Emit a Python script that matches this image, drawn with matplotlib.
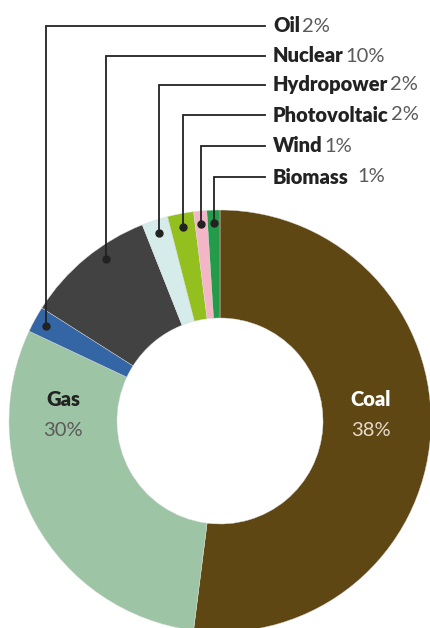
import numpy as np
import matplotlib.pyplot as plt

# slices clockwise from 12 o'clock
names = ['Coal', 'Gas', 'Oil', 'Nuclear', 'Hydropower', 'Photovoltaic', 'Wind', 'Biomass']
arc_share = [52, 30, 2, 10, 2, 2, 1, 1]          # sizes as drawn
pct_text = ['38%', '30%', '2%', '10%', '2%', '2%', '1%', '1%']   # labels as printed
colors = ['#5f4714', '#9dc5a5', '#3465a4', '#424242', '#d5ecea', '#93c01f', '#f4b6c6', '#239b48']

W, H = 430, 628
fig = plt.figure(figsize=(W / 100, H / 100), dpi=100)
ax = fig.add_axes([0, 0, 1, 1])

cx, cy = 220, H - 421
R = 211
ring = 108
wedges, _ = ax.pie(arc_share, colors=colors, startangle=90, counterclock=False,
                   center=(cx, cy), radius=R, frame=True,
                   wedgeprops=dict(width=ring, linewidth=0.3, edgecolor='#dddddd'))
ax.set_xlim(0, W)
ax.set_ylim(0, H)
ax.set_aspect('equal')
ax.axis('off')

font = 'Lato'
fs = 14.5

# big slices labelled inside the ring (x in px)
inside = {'Coal': (371, 'white', '#e6dccb'), 'Gas': (63, '#222222', '#5a5a5a')}
for n, (x, c1, c2) in inside.items():
    i = names.index(n)
    ax.text(x, H - 400, n, ha='center', va='center', fontsize=fs,
            fontweight='heavy', color=c1, family=font)
    ax.text(x, H - 431, pct_text[i], ha='center', va='center', fontsize=fs,
            fontweight='normal', color=c2, family=font)

# small slices with leader lines
small = ['Oil', 'Nuclear', 'Hydropower', 'Photovoltaic', 'Wind', 'Biomass']
label_y = [26, 56, 85, 115, 146, 177]
dot_frac = [0.5, 0.62, 0.5, 0.5, 0.5, 0.5]
line_end = 265
text_x = 273
for n, ly, f in zip(small, label_y, dot_frac):
    i = names.index(n)
    w = wedges[i]
    # clockwise pie: theta2 is the start edge
    a = np.deg2rad(w.theta2 - f * (w.theta2 - w.theta1))
    dx = cx + 198 * np.cos(a)
    dy = cy + 198 * np.sin(a)
    ax.plot([dx, dx, line_end], [dy, H - ly, H - ly], color='#222222', lw=1.3,
            solid_joinstyle='miter')
    ax.plot(dx, dy, 'o', color='#222222', ms=5)
    t = ax.text(text_x, H - ly, n, ha='left', va='center', fontsize=fs,
                fontweight='heavy', color='#222222', family=font)
    gap = 6 if n == 'Biomass' else 1.5
    ax.annotate(pct_text[i], xy=(1, 0.5), xycoords=t, xytext=(gap, 0),
                textcoords='offset points', ha='left', va='center',
                fontsize=fs, fontweight='normal', color='#5a5a5a', family=font)

fig.savefig('out.png', dpi=100)
